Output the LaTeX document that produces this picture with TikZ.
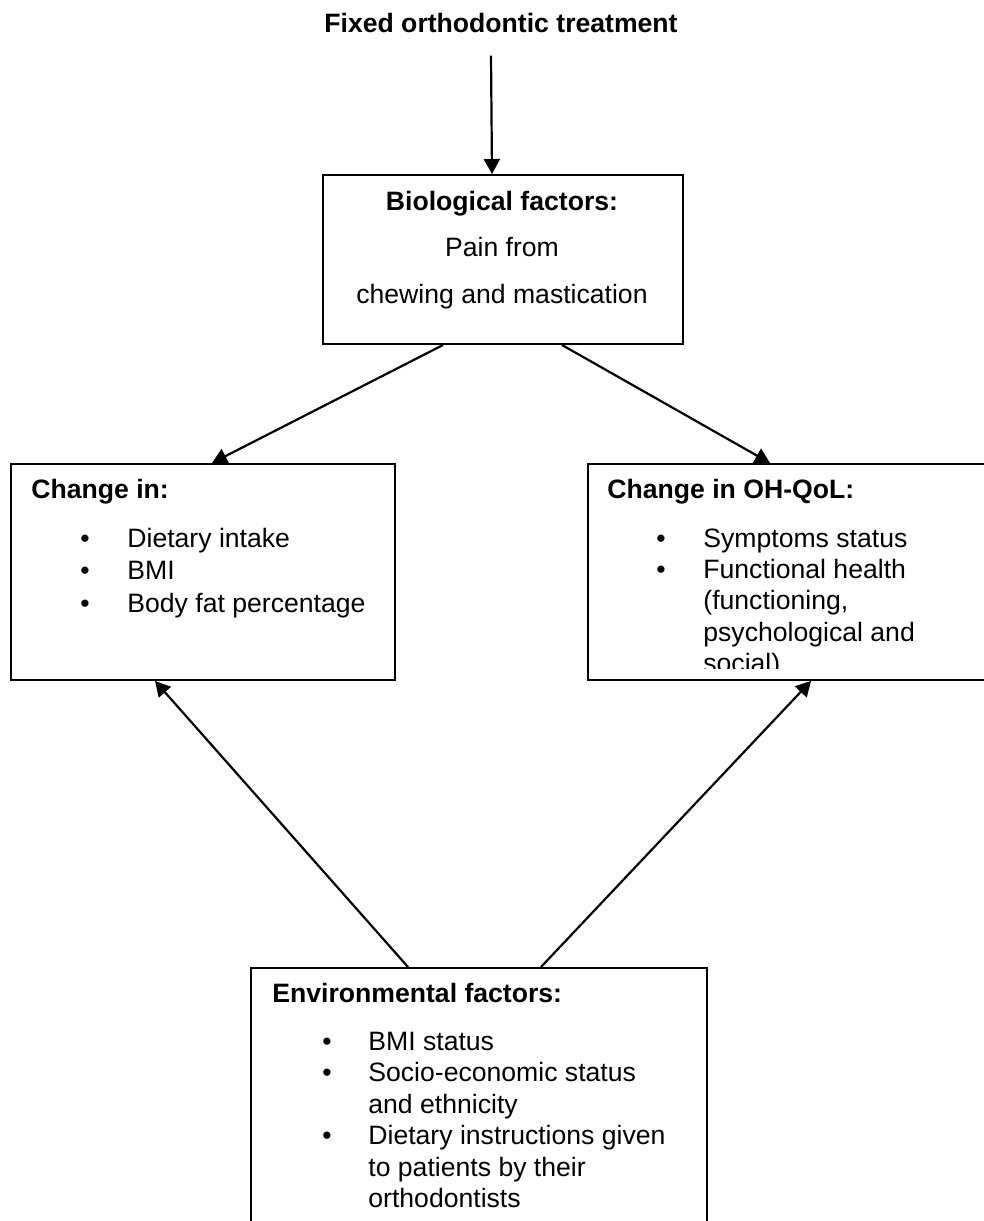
\documentclass[tikz,border=0pt]{standalone}
\usepackage{fontspec}
\setmainfont{Liberation Sans}
\usetikzlibrary{positioning, arrows.meta}
\tikzset{
	x=0.5pt, y=-0.5pt,
	box/.style= {
		rectangle,
		draw,
		line width=1pt,
		inner sep=0,
		anchor=north west
	},
	head/.style={font=\bfseries, inner sep=0, anchor=base west},
	item/.style={inner sep=0, anchor=base west, align=left},
	bul/.style={inner sep=0, anchor=base},
	link/.style={line width=1.1pt, -{Triangle[length=7.5pt, width=8pt]}},
}
\begin{document}
\fontsize{13.3pt}{15.75pt}\selectfont
\begin{tikzpicture}
	\useasboundingbox (0,0) rectangle (984,1221);
	
	\node (fixed) [head, anchor=base] at (501,32) {Fixed orthodontic treatment};
	
	% boxes
	\node (bio) [box, minimum width=180pt, minimum height=84.5pt] at (322,174) {};
	\node (diet) [box, minimum width=192pt, minimum height=108pt] at (10,463) {};
	\node (qol) [box, minimum width=210pt, minimum height=108pt] at (587,463) {};
	\node (env) [box, minimum width=228pt, minimum height=150pt] at (250,967) {};
	
	% biological factors (multi-line nodes sit on their last line)
	\node (biohead) [head, anchor=base] at (502,210) {Biological factors:};
	\node (biotext) [inner sep=0, anchor=base, align=center] at (502,303) {Pain from\\[7.5pt]chewing and mastication};
	
	% change in
	\node (diethead) [head] at (31,498) {Change in:};
	\node (dietb1) [bul] at (85,547) {\textbullet};
	\node (dietb2) [bul] at (85,579) {\textbullet};
	\node (dietb3) [bul] at (85,612) {\textbullet};
	\node (dietitem1) [item] at (127,547) {Dietary intake};
	\node (dietitem2) [item] at (127,579) {BMI};
	\node (dietitem3) [item] at (127,612) {Body fat percentage};
	
	% change in OH-QoL
	\node (qolhead) [head] at (607,498) {Change in OH-QoL:};
	\node (qolb1) [bul] at (661,547) {\textbullet};
	\node (qolb2) [bul] at (661,578) {\textbullet};
	\node (qolitem1) [item] at (703,547) {Symptoms status};
	\begin{scope}
		\clip (587,463) rectangle (984,668);
		\node (qolitem2) [item] at (703,672.5) {Functional health\\(functioning,\\psychological and\\social)};
	\end{scope}
	
	% environmental factors
	\node (envhead) [head] at (272,1002) {Environmental factors:};
	\node (envb1) [bul] at (327,1050) {\textbullet};
	\node (envb2) [bul] at (327,1081.5) {\textbullet};
	\node (envb3) [bul] at (327,1144.5) {\textbullet};
	\node (envitem1) [item] at (368,1050) {BMI status};
	\node (envitem2) [item] at (368,1113) {Socio-economic status\\and ethnicity};
	\node (envitem3) [item] at (368,1207.5) {Dietary instructions given\\to patients by their\\orthodontists};
	
	\draw[link] ([xshift=-5pt, yshift=-11.5pt]fixed.south) to ([xshift=-5.5pt]bio.north);
	\draw[link] ([xshift=60.5pt]bio.south west) to ([xshift=101pt]diet.north west);
	\draw[link] ([xshift=120pt]bio.south west) to ([xshift=91.5pt]qol.north west);
	\draw[link] ([xshift=79pt]env.north west) to ([xshift=72.5pt]diet.south west);
	\draw[link] ([xshift=145.5pt]env.north west) to ([xshift=112pt]qol.south west);
\end{tikzpicture}
\end{document}
